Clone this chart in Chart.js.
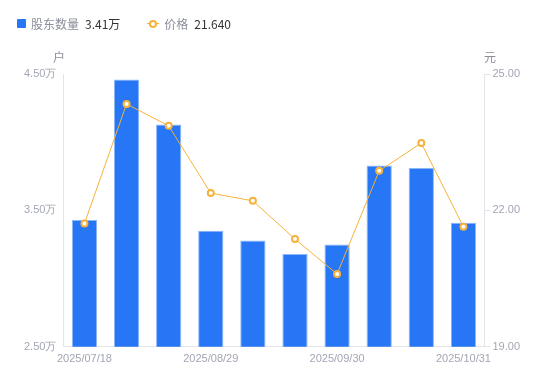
<!DOCTYPE html>
<html>
<head>
<meta charset="utf-8">
<script src="https://cdn.jsdelivr.net/npm/chart.js@4/dist/chart.umd.min.js"></script>
<style>
  body { margin: 0; background: #fff; font-family: "Noto Sans CJK SC", "Noto Sans", sans-serif; }
  #wrap { position: relative; width: 550px; height: 381px; }
  #legend { position: absolute; left: 17px; top: 15px; font-size: 12px; display: flex; align-items: center; }
  .item { display: flex; align-items: center; margin-right: 27px; }
  .name { color: #8a8e99; margin-right: 6px; }
  .val { color: #333; }
  .sq { width: 9px; height: 9px; background: #2676f5; border-radius: 1px; margin-right: 5px; }
  .ln { position: relative; width: 12px; height: 1px; background: #f7b23b; margin-right: 5px; }
  .ln::after { content: ""; position: absolute; left: 2px; top: -3px; width: 4px; height: 4px; border: 2px solid #f7b23b; border-radius: 50%; background: #fff; }
  .unit { position: absolute; top: 48px; font-size: 12px; color: #8a8e99; }
</style>
</head>
<body>
<div id="wrap">
  <canvas id="chart"></canvas>
  <div id="legend">
    <div class="item"><span class="sq"></span><span class="name">股东数量</span><span class="val" id="v1"></span></div>
    <div class="item"><span class="ln"></span><span class="name">价格</span><span class="val" id="v2"></span></div>
  </div>
  <span class="unit" style="left:53px">户</span>
  <span class="unit" style="left:484px">元</span>
</div>
<script>
const dates = ['2025/07/18', '2025/07/31', '2025/08/15', '2025/08/29', '2025/09/10',
               '2025/09/19', '2025/09/30', '2025/10/15', '2025/10/24', '2025/10/31'];
const holders = [3.43, 4.46, 4.13, 3.35, 3.28, 3.18, 3.25, 3.83, 3.81, 3.41]; // 万户
const prices = [21.71, 24.34, 23.86, 22.38, 22.21, 21.37, 20.60, 22.87, 23.48, 21.64];
const labelIdx = [0, 3, 6, 9];

document.getElementById('v1').textContent = holders[holders.length - 1].toFixed(2) + '万';
document.getElementById('v2').textContent = prices[prices.length - 1].toFixed(3);

const grey = '#a3a6b4';
const axisLine = '#e3e4e8';

new Chart(document.getElementById('chart').getContext('2d'), {
    data: {
        labels: dates,
        datasets: [{
            type: 'line',
            label: '价格',
            data: prices,
            yAxisID: 'y1',
            borderColor: '#f7b23b',
            borderWidth: 1,
            pointRadius: 3,
            pointBorderWidth: 2,
            pointBackgroundColor: '#fff',
            pointBorderColor: '#f7b23b',
            tension: 0,
            order: 0
        }, {
            type: 'bar',
            label: '股东数量',
            data: holders,
            yAxisID: 'y',
            backgroundColor: '#2676f5',
            borderColor: '#8db6fa',
            borderWidth: { top: 1, left: 1, right: 1, bottom: 0 },
            barPercentage: 0.6,
            categoryPercentage: 1,
            order: 1
        }]
    },
    options: {
        responsive: true,
        maintainAspectRatio: false,
        animation: false,
        layout: { padding: { top: 74, left: 24, right: 28, bottom: 9 } },
        plugins: { legend: { display: false }, tooltip: { enabled: false } },
        scales: {
            x: {
                grid: { display: false, drawTicks: false },
                border: { color: axisLine },
                ticks: {
                    color: grey, font: { size: 11 }, maxRotation: 0, autoSkip: false, padding: 6,
                    callback: (v, i) => labelIdx.includes(i) ? dates[i] : ''
                }
            },
            y: {
                position: 'left', min: 2.5, max: 4.5,
                grid: { display: false, drawTicks: true, tickLength: 7, tickColor: axisLine, drawOnChartArea: false },
                border: { color: axisLine },
                ticks: { stepSize: 1, color: grey, font: { size: 11 }, padding: 0, callback: v => v.toFixed(2) + '万' }
            },
            y1: {
                position: 'right', min: 19, max: 25,
                grid: { display: true, drawOnChartArea: false, tickLength: 6, tickColor: axisLine },
                border: { color: axisLine },
                ticks: { stepSize: 3, color: grey, font: { size: 11 }, padding: 2, callback: v => v.toFixed(2) }
            }
        }
    }
});
</script>
</body>
</html>
